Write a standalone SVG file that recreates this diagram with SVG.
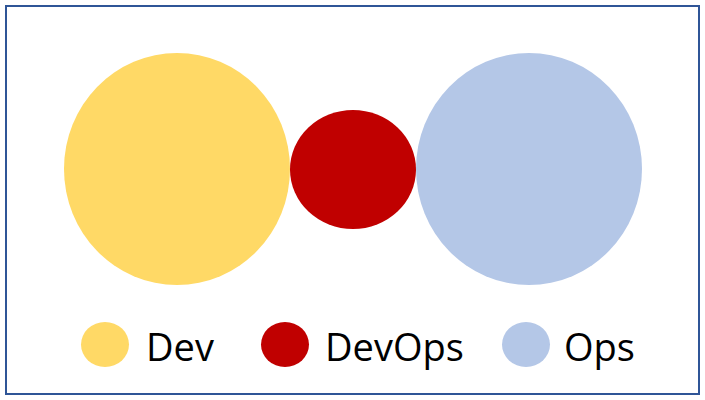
<svg xmlns="http://www.w3.org/2000/svg" width="705" height="400" viewBox="0 0 705 400">
<style>
.lbl{font-family:"Open Sans","Noto Sans","Liberation Sans",sans-serif;font-size:38px;fill:#000}
.dev{fill:#FFD966}.devops{fill:#C00000}.ops{fill:#B4C7E7}
</style>
<rect x="6" y="6" width="693" height="388" fill="#fff" stroke="#2F5597" stroke-width="2"/>
<g id="dev"><ellipse class="dev" cx="177" cy="169" rx="113" ry="116"/></g>
<g id="devops"><ellipse class="devops" cx="353" cy="169.5" rx="63" ry="59.5"/></g>
<g id="ops"><ellipse class="ops" cx="529" cy="169" rx="113" ry="116"/></g>
<g id="legend-dev"><ellipse class="dev" cx="105" cy="344.5" rx="24" ry="22.5"/><text class="lbl" x="146" y="361">Dev</text></g>
<g id="legend-devops"><ellipse class="devops" cx="285" cy="344.5" rx="24" ry="22.5"/><text class="lbl" x="325" y="361">DevOps</text></g>
<g id="legend-ops"><ellipse class="ops" cx="526" cy="344.5" rx="24" ry="22.5"/><text class="lbl" x="564" y="361">Ops</text></g>
<g id="connectors"/>
</svg>
